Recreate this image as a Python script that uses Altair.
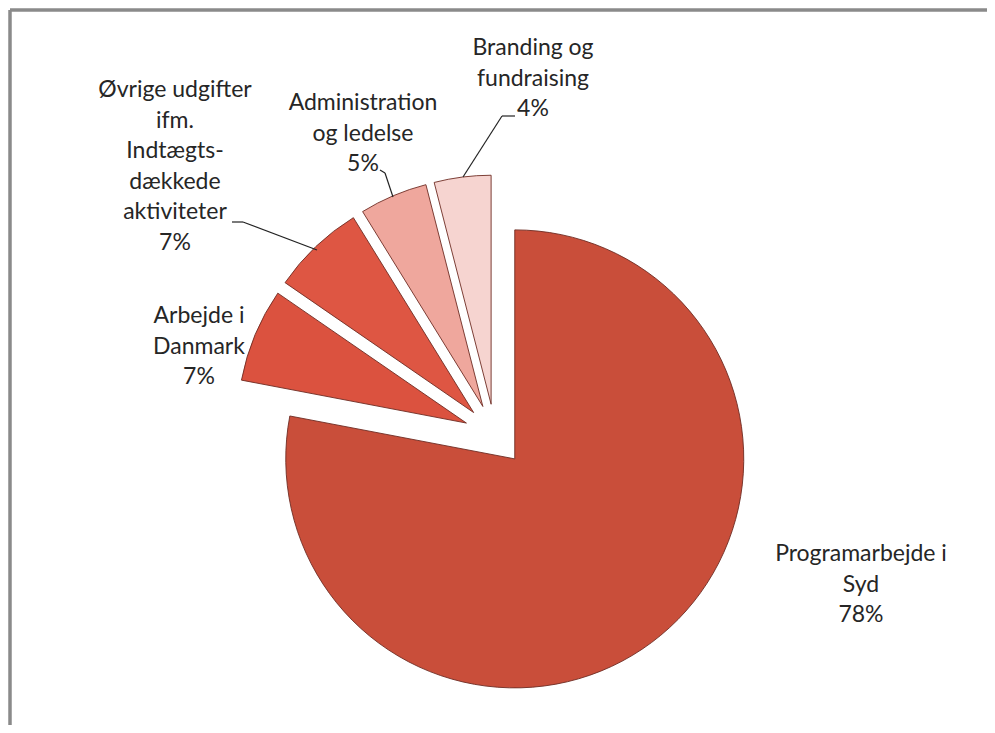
import math
import altair as alt
import pandas as pd

# ---------------- data ----------------
categories = [
    "Programarbejde i Syd",
    "Arbejde i Danmark",
    "Øvrige udgifter ifm. Indtægtsdækkede aktiviteter",
    "Administration og ledelse",
    "Branding og fundraising",
]
values = [78.0, 6.6, 6.6, 4.8, 4.0]
label_lines = [
    "Programarbejde i\nSyd",
    "Arbejde i\nDanmark",
    "Øvrige udgifter\nifm.\nIndtægts-\ndækkede\naktiviteter",
    "Administration\nog ledelse",
    "Branding og\nfundraising",
]
colors = ["#c94e3a", "#db523f", "#de5643", "#efa79d", "#f6d4d0"]

# ---------------- layout (style) ----------------
W, H = 979, 717
CX, CY = 487, 427          # pie centre (plot pixels)
RADIUS = 229
EXPLODE = 31
FONT = "Lato"
FONT_SIZE = 23
LINE_H = 30.5
label_x = [853, 191, 167, 355, 525]
label_y = [553, 315, 89, 102, 47]
# leader line segments (x, y, x2, y2)
leaders = [
    (494, 108, 507, 108), (494, 108, 455, 169),
    (372, 162, 377, 165), (377, 165, 385, 189),
    (224, 214, 235, 214), (235, 214, 309, 242),
]

df = pd.DataFrame({
    "order": list(range(len(categories))),
    "category": categories,
    "value": values,
})

color_scale = alt.Scale(domain=categories, range=colors)
theta_scale = alt.Scale(domain=[0, 100], range=[0, 2 * math.pi])

base = alt.Chart(df).transform_window(
    end="sum(value)", sort=[alt.SortField("order")], frame=[None, 0]
).transform_calculate(
    start="datum.end - datum.value",
    mid="(datum.end - datum.value / 2) / 100 * 2 * PI",
).transform_calculate(
    cx=f"{CX} + {EXPLODE} * sin(datum.mid)",
    cy=f"{CY} - {EXPLODE} * cos(datum.mid)",
)

arcs = base.mark_arc(radius=RADIUS, stroke="#6e2b22", strokeWidth=0.9).encode(
    theta=alt.Theta("start:Q", scale=theta_scale, stack=None),
    theta2="end:Q",
    x=alt.X("cx:Q", scale=None, axis=None),
    y=alt.Y("cy:Q", scale=None, axis=None),
    color=alt.Color("category:N", scale=color_scale, legend=None),
)

lab_df = pd.DataFrame({
    "category": categories,
    "value": values,
    "lines": label_lines,
    "lx": label_x,
    "ly": label_y,
})
labels = alt.Chart(lab_df).transform_calculate(
    txt="datum.lines + '\\n' + format(round(datum.value), 'd') + '%'"
).mark_text(
    lineBreak="\n", align="center", baseline="alphabetic",
    font=FONT, fontSize=FONT_SIZE, lineHeight=LINE_H, color="#262626",
).encode(
    x=alt.X("lx:Q", scale=None, axis=None),
    y=alt.Y("ly:Q", scale=None, axis=None),
    text="txt:N",
)

lead_df = pd.DataFrame(leaders, columns=["x", "y", "x2", "y2"])
lead = alt.Chart(lead_df).mark_rule(color="#222222", strokeWidth=1.2).encode(
    x=alt.X("x:Q", scale=None, axis=None),
    y=alt.Y("y:Q", scale=None, axis=None),
    x2="x2:Q",
    y2="y2:Q",
)

border_top = alt.Chart(df).mark_rule(color="#8a8a8a", strokeWidth=2.5).encode(
    x=alt.value(2), x2=alt.value(W), y=alt.value(2), y2=alt.value(2)
)
border_left = alt.Chart(df).mark_rule(color="#8a8a8a", strokeWidth=2.5).encode(
    x=alt.value(2), x2=alt.value(2), y=alt.value(2), y2=alt.value(H)
)

chart = alt.layer(arcs, lead, labels, border_top, border_left).properties(
    width=W, height=H, padding=0, autosize="none", background="white"
).configure_view(stroke=None)

chart.save("out.html", embed_options={"renderer": "svg", "actions": False})
